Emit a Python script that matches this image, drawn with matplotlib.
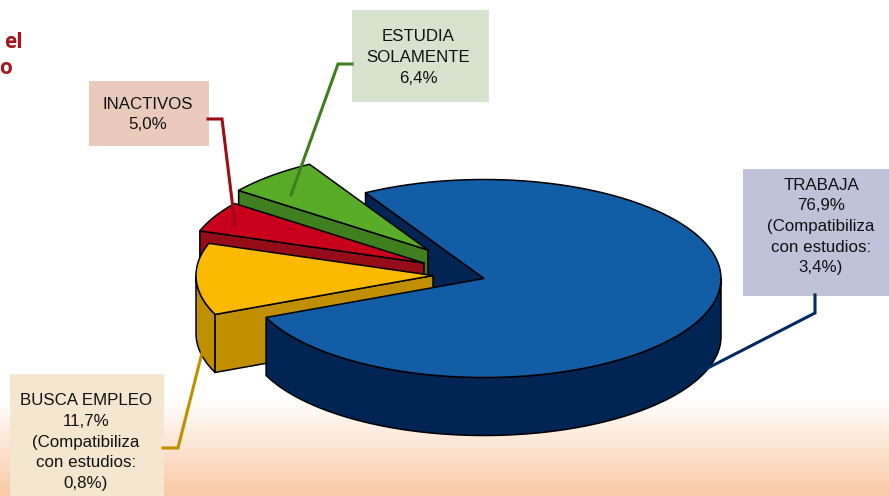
import numpy as np
import matplotlib
matplotlib.use("Agg")
import matplotlib.pyplot as plt
from matplotlib.colors import LinearSegmentedColormap
from matplotlib.patches import Polygon, Rectangle

categories = ["ESTUDIA\nSOLAMENTE", "INACTIVOS", "BUSCA EMPLEO", "TRABAJA"]
shares = [6.4, 5.0, 11.7, 76.9]
share_labels = ["6,4%", "5,0%", "11,7%", "76,9%"]
compat_notes = [None, None, "0,8%", "3,4%"]

top_colors = ["#58ac28", "#c8001c", "#fbba00", "#135ca6"]
wall_colors = ["#3f7f20", "#960c18", "#c08f00", "#002454"]
box_colors = ["#d8e3cf", "#eacabb", "#f4e6cf", "#bfc2d8"]
line_colors = ["#3f7f20", "#9b0e18", "#c08f00", "#002a60"]

# pie geometry, in pixels
cx, cy = 484, 278.5
rx, ry = 237, 99
depth = 58
start = 120
offsets = [(-56, -28.5), (-60, -15.5), (-51, -3), (0, 0)]

# left, top, right, bottom of the label boxes
boxes = [(352, 10, 489, 102), (89, 81, 209, 146), (10, 374, 164, 496), (743, 169, 889, 296)]
# leader lines, box end first
leaders = [
    [(352, 64), (338, 64), (291, 195)],
    [(208, 119), (222, 119), (235, 225)],
    [(163, 448), (178, 448), (204, 345)],
    [(815, 295), (815, 313), (700, 372)],
]
text_x = [418.5, 147.5, 86, 821]
text_y = [57.5, 114.5, 442, 226.5]


def rim(ox, oy, a1, a2, drop=0):
    t = np.radians(np.linspace(a1, a2, 120))
    return np.column_stack([cx + ox + rx * np.cos(t), cy + oy - ry * np.sin(t) + drop])


def poly(ax, pts, color):
    ax.add_patch(Polygon(pts, closed=True, facecolor=color, edgecolor="black", linewidth=1.1, joinstyle="round"))


fig = plt.figure(figsize=(8.89, 4.96), dpi=100)
ax = fig.add_axes([0, 0, 1, 1])
ax.set_xlim(0, 889)
ax.set_ylim(496, 0)
ax.axis("off")

# background fade at the bottom
fade = LinearSegmentedColormap.from_list("fade", ["#ffffff", "#f9c9a5"])
ramp = np.linspace(0, 1, 100).reshape(-1, 1)
ax.imshow(ramp, extent=(0, 889, 496, 398), cmap=fade, aspect="auto", zorder=0)
ax.set_xlim(0, 889)
ax.set_ylim(496, 0)

ax.text(23, 43, "el", color="#a6151d", fontsize=15, fontweight="bold", family="Open Sans", ha="right", va="center")
ax.text(12, 68, "o", color="#a6151d", fontsize=15, fontweight="bold", family="Open Sans", ha="right", va="center")

# boxes and text
for i in range(len(categories)):
    l, t, r, b = boxes[i]
    ax.add_patch(Rectangle((l, t), r - l, b - t, facecolor=box_colors[i], edgecolor="none"))
    label = categories[i] + "\n" + share_labels[i]
    if compat_notes[i]:
        label += "\n(Compatibiliza\ncon estudios:\n" + compat_notes[i] + ")"
    ax.text(text_x[i], text_y[i], label, ha="center", va="center", fontsize=12.2,
            family="Liberation Sans", color="#111111", linespacing=1.47)

# leader lines that pass behind the pie
for i in [2, 3]:
    xs, ys = zip(*leaders[i])
    ax.plot(xs, ys, color=line_colors[i], lw=2.2, solid_joinstyle="miter")

# angles of each slice from the shares
edges = start + np.cumsum([0] + shares) * 3.6

# cut face of the big slice shows through behind the small ones
blue_end = rim(0, 0, edges[0], edges[0], 0)[0]
poly(ax, [blue_end, (cx, cy), (cx, cy + depth), blue_end + (0, depth)], wall_colors[3])

for i in range(3):
    a1, a2 = edges[i], edges[i + 1]
    ox, oy = offsets[i]
    apex = np.array([cx + ox, cy + oy])
    if a2 > 180:
        outer = rim(ox, oy, 180, a2)
        poly(ax, np.vstack([outer, rim(ox, oy, a2, 180, depth)]), wall_colors[i])
    edge_pt = rim(ox, oy, a2, a2)[0]
    poly(ax, [edge_pt, apex, apex + (0, depth), edge_pt + (0, depth)], wall_colors[i])
    poly(ax, np.vstack([[apex], rim(ox, oy, a1, a2)]), top_colors[i])

# big slice on top
a1, a2 = edges[3], edges[4]
poly(ax, np.vstack([rim(0, 0, a1, 360), rim(0, 0, 360, a1, depth)]), wall_colors[3])
poly(ax, np.vstack([[(cx, cy)], rim(0, 0, a1, a2)]), top_colors[3])

# these two end on top of their slices
for i in [0, 1]:
    xs, ys = zip(*leaders[i])
    ax.plot(xs, ys, color=line_colors[i], lw=2.2, solid_joinstyle="miter")

fig.savefig("out.png", dpi=100)
